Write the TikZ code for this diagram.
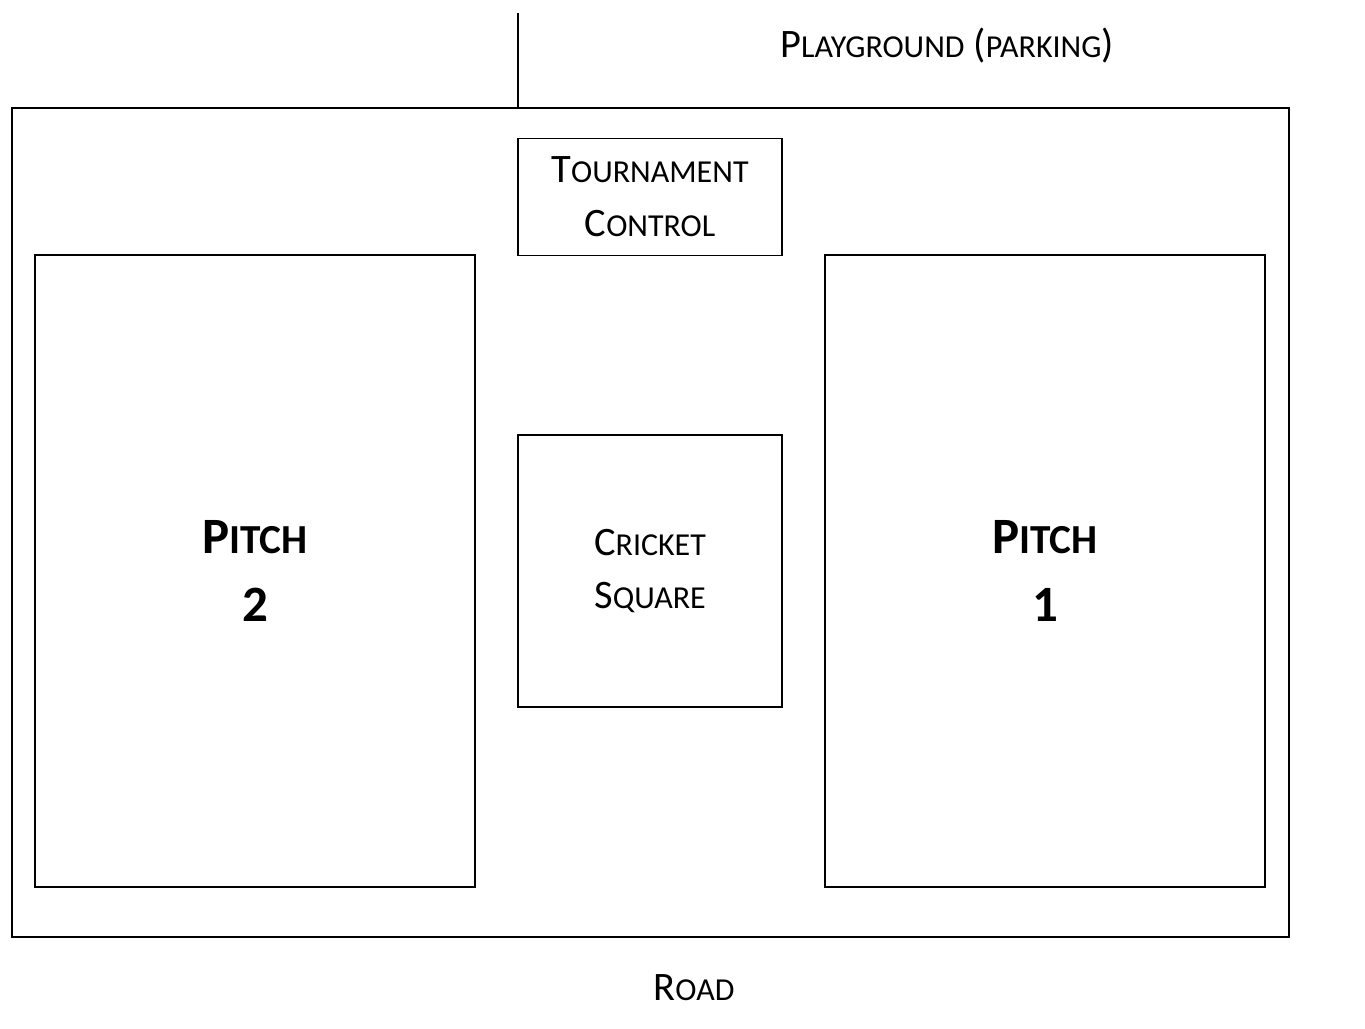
\documentclass[tikz,border=0pt]{standalone}
\usepackage{fontspec}
\setmainfont{Carlito}
\usepackage{tikz}

% fake small caps, as the word processor does
\newcommand\smc[1]{{\fontsize{18.2}{30.6}\selectfont #1}}
\newcommand\bsmc[1]{{\fontsize{23.5}{39}\selectfont #1}}

\tikzset{
	area/.style={draw, line width=1.1pt, inner sep=0pt, align=center, font=\fontsize{23}{30.6}\selectfont},
	pitch/.style={area, minimum width=8.8cm, minimum height=12.64cm, font=\bfseries\fontsize{29}{39}\selectfont},
	label/.style={inner sep=0pt, font=\fontsize{23}{30.6}\selectfont}
}

\begin{document}
\begin{tikzpicture}[x=0.02cm, y=-0.02cm]

\useasboundingbox (0,0) rectangle (1365,1028);

\node[area, minimum width=25.54cm, minimum height=16.58cm] (field) at (650.5,522.5) {};

\coordinate (gate) at (518,13);
\draw[line width=1.1pt] (gate) -- (gate |- field.north);

\node[label] (playground) at (947,46) {P\smc{LAYGROUND} (\smc{PARKING})};
\node[label] (road) at (694,988) {R\smc{OAD}};

\node[area, minimum width=5.28cm, minimum height=2.34cm] (control) at (650,197) {T\smc{OURNAMENT}\\C\smc{ONTROL}};
\node[area, minimum width=5.28cm, minimum height=5.44cm] (square) at (650,571) {C\smc{RICKET}\\S\smc{QUARE}};

\node[pitch] (pitch2) at (255,571) {P\bsmc{ITCH}\\2};
\node[pitch] (pitch1) at (1045,571) {P\bsmc{ITCH}\\1};

\end{tikzpicture}
\end{document}
